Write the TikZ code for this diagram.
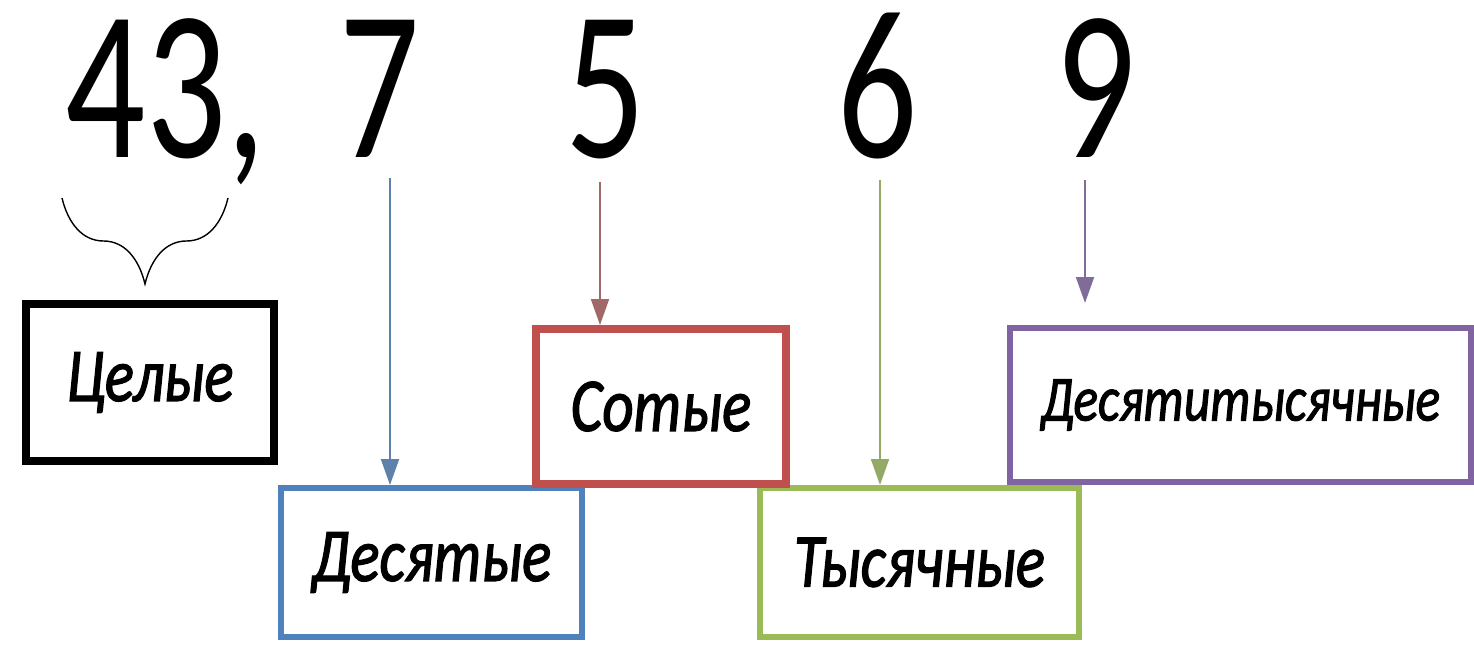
\documentclass[tikz,border=0pt]{standalone}
\usepackage{fontspec}
\setmainfont{Carlito}
\newfontfamily\digitfont[FakeStretch=0.74]{Carlito}
\newfontfamily\placefont[FakeStretch=0.8, FakeBold=1.6]{Carlito}
\usetikzlibrary{arrows.meta, positioning, decorations.pathreplacing}

\definecolor{tenthsblue}{RGB}{79,129,189}
\definecolor{hundredthsred}{RGB}{192,80,77}
\definecolor{thousandthsgreen}{RGB}{155,187,89}
\definecolor{tenthousandthspurple}{RGB}{128,100,162}

\begin{document}
\begin{tikzpicture}[x=0.5pt, y=-0.5pt,
        digit/.style = {
            font = \digitfont\fontsize{107}{107}\selectfont,
            inner sep = 0pt,
            anchor = base
        },
        place/.style = {
            rectangle,
            draw,
            fill = white,
            inner sep = 0pt,
            align = center,
            font = \placefont\itshape\fontsize{38}{42}\selectfont
        },
        pointer/.style = {
            -{Triangle[length=13pt, width=9pt]},
            line width = 1pt
        }  ]

        \useasboundingbox (0,0) rectangle (1474,647);

        % the number
        \node (n43) [digit] at (166,158) {43,};
        \node (n7) [digit] at (380,158) {7};
        \node (n5) [digit] at (606,158) {5};
        \node (n6) [digit] at (878,158) {6};
        \node (n9) [digit] at (1096,158) {9};

        % the places
        \node (whole) [place, line width=4pt, minimum width=124pt, minimum height=78.5pt] at (150,382.5) {Целые};
        \node (tenths) [place, draw=tenthsblue, line width=3pt, minimum width=150.5pt, minimum height=74.5pt] at (431.5,562.5) {Десятые};
        \node (thousandths) [place, draw=thousandthsgreen, line width=3pt, minimum width=159.5pt, minimum height=74.5pt] at (919.5,562.5) {Тысячные};
        \node (hundredths) [place, draw=hundredthsred, line width=4pt, minimum width=125pt, minimum height=77.5pt] at (661,406.5) {Сотые};
        \node (tenthousandths) [place, draw=tenthousandthspurple, line width=3pt, minimum width=230.5pt, minimum height=77pt,
            font=\placefont\itshape\fontsize{32}{36}\selectfont] at (1240.5,405) {Десятитысячные};

        \coordinate (brace_left) at (62,198);
        \coordinate (brace_right) at (228,198);

        \draw[decorate, decoration={brace, mirror, amplitude=43pt}, line width=0.7pt] (brace_left) -- (brace_right);
        \draw[pointer, draw=tenthsblue!70!gray, fill=tenthsblue!90!cyan] ([xshift=5pt, yshift=-10pt]n7.south) -- ([xshift=5pt]n7.south |- tenths.north);
        \draw[pointer, draw=hundredthsred!50!gray, fill=red!90!black] ([xshift=-3pt, yshift=-11pt]n5.south) -- ([xshift=-3pt]n5.south |- hundredths.north);
        \draw[pointer, draw=thousandthsgreen!70!gray, fill=thousandthsgreen!80!green] ([xshift=1pt, yshift=-10pt]n6.south) -- ([xshift=1pt]n6.south |- thousandths.north);
        \draw[pointer, draw=tenthousandthspurple!70!gray, fill=tenthousandthspurple!80!blue] ([xshift=-5.5pt, yshift=-11pt]n9.south) -- ([xshift=-5.5pt, yshift=11pt]n9.south |- tenthousandths.north);
    \end{tikzpicture}
\end{document}
